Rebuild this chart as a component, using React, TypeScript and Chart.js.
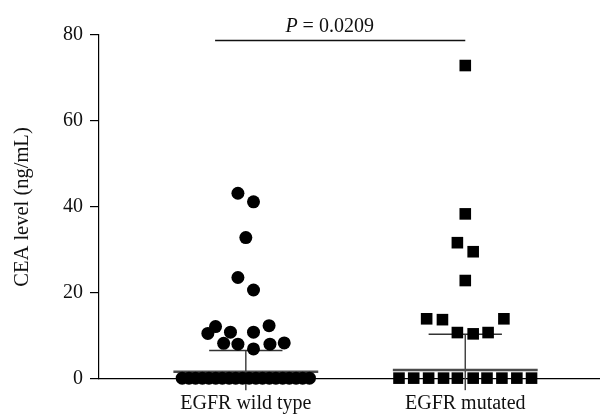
import React, { useEffect, useRef } from 'react';
import { Chart, registerables } from 'chart.js';
Chart.register(...registerables);

const categories = ['EGFR wild type', 'EGFR mutated'];
const yTicks = [0, 20, 40, 60, 80];

const wildValues = [
  43.2, 41.2, 32.9, 23.6, 20.7,
  12.2, 10.6, 10.9, 10.9, 12.4, 8.3, 8.1, 7.0, 8.1, 8.4,
  0.2, 0.2, 0.2, 0.2, 0.2, 0.2, 0.2, 0.2, 0.2, 0.2,
  0.2, 0.2, 0.2, 0.2, 0.2, 0.2, 0.2, 0.2, 0.2, 0.2,
];
const wildJitter = [
  -0.036, 0.035, 0, -0.036, 0.035,
  -0.138, -0.173, -0.07, 0.035, 0.106, -0.101, -0.036, 0.035, 0.11, 0.175,
  -0.29, -0.259, -0.229, -0.198, -0.168, -0.137, -0.107, -0.076, -0.046, -0.015,
  0.015, 0.046, 0.076, 0.107, 0.137, 0.168, 0.198, 0.229, 0.259, 0.29,
];

const mutValues = [
  72.9, 38.4, 31.7, 29.6, 22.9, 14.0, 13.8, 14.0, 10.8, 10.5, 10.8,
  0.2, 0.2, 0.2, 0.2, 0.2, 0.2, 0.2, 0.2, 0.2, 0.2,
];
const mutJitter = [
  0, 0, -0.036, 0.036, 0, -0.176, -0.104, 0.176, -0.036, 0.036, 0.104,
  -0.302, -0.235, -0.167, -0.099, -0.036, 0.036, 0.099, 0.167, 0.235, 0.302,
];

// summary lines: [center line, upper whisker, lower whisker]
const wildSummary = [1.7, 6.6, -2.6];
const mutSummary = [2.1, 10.4, -2.6];

const pLabel = '0.0209';
const pLineStart = 0.86;
const pLineEnd = 2.0;
const pLineY = 78.7;
const pLabelX = 1.382;

const FONT = "'Liberation Serif', 'Times New Roman', serif";
const FS = 20;

export default function App() {
  const ref = useRef<HTMLCanvasElement>(null);
  useEffect(() => {
    if (!ref.current) return;
    const pts = (vals: number[], jit: number[], cat: number) =>
      vals.map((v, i) => ({ x: cat + jit[i], y: v }));
    const seg = (x0: number, x1: number, y0: number, y1: number) => [
      { x: x0, y: y0 },
      { x: x1, y: y1 },
    ];
    const lineDs = (data: any[], color: string, width: number) => ({
      data,
      showLine: true,
      borderColor: color,
      borderWidth: width,
      pointRadius: 0,
      pointHoverRadius: 0,
      clip: false,
      fill: false,
    });
    const summaryDs = (cat: number, s: number[]) => [
      lineDs(seg(cat - 0.33, cat + 0.33, s[0], s[0]), '#4a4a4a', 2.5),
      lineDs(seg(cat - 0.167, cat + 0.167, s[1], s[1]), '#333', 1.5),
      lineDs(seg(cat, cat, s[2], s[1]), '#444', 1.5),
    ];

    const pPlugin = {
      id: 'pvalue',
      afterDraw(chart: any) {
        const { ctx, scales } = chart;
        const x = scales.x.getPixelForValue(pLabelX);
        const y = scales.y.getPixelForValue(pLineY) - 9;
        ctx.save();
        ctx.fillStyle = '#111';
        ctx.textBaseline = 'alphabetic';
        ctx.font = `italic ${FS}px ${FONT}`;
        const wP = ctx.measureText('P').width;
        ctx.font = `${FS}px ${FONT}`;
        const rest = ' = ' + pLabel;
        const wR = ctx.measureText(rest).width;
        const start = x - (wP + wR) / 2;
        ctx.font = `italic ${FS}px ${FONT}`;
        ctx.textAlign = 'left';
        ctx.fillText('P', start, y);
        ctx.font = `${FS}px ${FONT}`;
        ctx.fillText(rest, start + wP, y);
        ctx.restore();
      },
    };

    const chart = new Chart(ref.current, {
      type: 'scatter',
      data: {
        datasets: [
          {
            data: pts(wildValues, wildJitter, 1),
            pointStyle: 'circle',
            pointRadius: 6.5,
            pointBackgroundColor: '#000',
            pointBorderWidth: 0,
            clip: false,
          } as any,
          {
            data: pts(mutValues, mutJitter, 2),
            pointStyle: 'rect',
            pointRadius: 8.2,
            pointBackgroundColor: '#000',
            pointBorderWidth: 0,
            clip: false,
          } as any,
          ...summaryDs(1, wildSummary),
          ...summaryDs(2, mutSummary),
          lineDs(seg(pLineStart, pLineEnd, pLineY, pLineY), '#111', 1.5),
        ],
      },
      options: {
        animation: false,
        responsive: false,
        events: [],
        layout: { padding: { top: 35, right: 3, left: 0, bottom: 0 } },
        plugins: { legend: { display: false }, tooltip: { enabled: false } },
        scales: {
          x: {
            type: 'linear',
            min: 0.331,
            max: 2.613,
            grid: { display: false },
            border: { display: true, color: '#000', width: 1.2 },
            afterBuildTicks: (scale: any) => {
              scale.ticks = [{ value: 1 }, { value: 2 }];
            },
            afterFit: (scale: any) => {
              scale.height = 38;
            },
            ticks: {
              autoSkip: false,
              maxRotation: 0,
              padding: 5,
              color: '#111',
              font: { family: FONT, size: FS },
              callback: (v: any) => categories[Math.round(v) - 1] ?? '',
            },
          },
          y: {
            type: 'linear',
            min: 0,
            max: 80,
            afterBuildTicks: (scale: any) => {
              scale.ticks = yTicks.map((v) => ({ value: v }));
            },
            afterFit: (scale: any) => {
              scale.width = 99;
            },
            grid: {
              drawOnChartArea: false,
              drawTicks: true,
              tickLength: 9,
              color: '#000',
              lineWidth: 1.2,
            },
            border: { display: true, color: '#000', width: 1.2 },
            title: {
              display: true,
              text: 'CEA level (ng/mL)',
              color: '#111',
              font: { family: FONT, size: 20.5 },
              padding: { top: 10, bottom: 0 },
            },
            ticks: {
              padding: 7,
              color: '#111',
              font: { family: FONT, size: FS },
            },
          },
        },
      },
      plugins: [pPlugin],
    } as any);
    return () => chart.destroy();
  }, []);

  return (
    <div style={{ position: 'absolute', left: 0, top: 0, width: 608, height: 417, background: '#fff' }}>
      <canvas ref={ref} width={608} height={417} style={{ display: 'block' }} />
    </div>
  );
}
